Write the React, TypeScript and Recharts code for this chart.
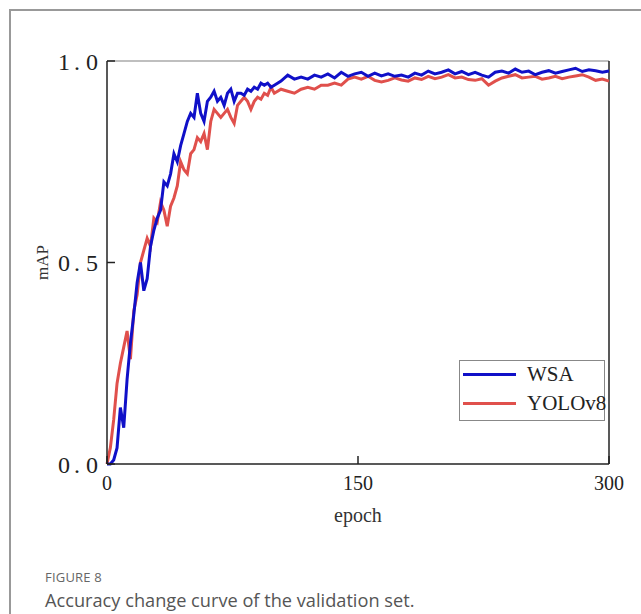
import React from "react";
import { LineChart, Line, XAxis, YAxis, ReferenceLine } from "recharts";

const earlyEpochs = [0,2,4,6,8,10,12,14,16,18,20,22,24,26,28,30,32,34,36,38,40,42,44,46,48,50,52,54,56,58,60,62,64,66,68,70,72,74,76,78,80,82,84,86,88,90,92,94,96,98,100];
const earlyWSA = [0.00,0.00,0.01,0.04,0.14,0.09,0.21,0.30,0.37,0.45,0.50,0.43,0.46,0.54,0.58,0.61,0.63,0.70,0.69,0.72,0.77,0.75,0.79,0.82,0.85,0.87,0.86,0.92,0.87,0.85,0.90,0.91,0.925,0.90,0.91,0.89,0.92,0.93,0.90,0.92,0.92,0.915,0.93,0.925,0.935,0.93,0.945,0.94,0.945,0.935,0.94];
const earlyYOLO = [0.00,0.04,0.11,0.20,0.25,0.29,0.33,0.26,0.38,0.42,0.50,0.53,0.56,0.54,0.61,0.60,0.65,0.63,0.59,0.64,0.66,0.69,0.75,0.73,0.72,0.77,0.78,0.81,0.80,0.82,0.78,0.85,0.88,0.87,0.86,0.87,0.88,0.86,0.845,0.89,0.90,0.91,0.90,0.88,0.90,0.91,0.905,0.92,0.915,0.935,0.92];

const lateEpochs = [104,108,112,116,120,124,128,132,136,140,144,148,152,156,160,164,168,172,176,180,184,188,192,196,200,204,208,212,216,220,224,228,232,236,240,244,248,252,256,260,264,268,272,276,280,284,288,292,296,300];
const lateWSA = [0.95,0.965,0.955,0.96,0.955,0.965,0.96,0.968,0.958,0.972,0.962,0.968,0.972,0.962,0.97,0.963,0.968,0.962,0.965,0.96,0.97,0.965,0.975,0.968,0.972,0.978,0.968,0.974,0.966,0.972,0.965,0.96,0.972,0.975,0.97,0.98,0.972,0.975,0.966,0.972,0.976,0.97,0.974,0.978,0.982,0.974,0.978,0.976,0.972,0.975];
const lateYOLO = [0.93,0.925,0.92,0.93,0.935,0.93,0.94,0.94,0.945,0.94,0.955,0.96,0.955,0.962,0.952,0.948,0.952,0.958,0.953,0.95,0.958,0.954,0.962,0.956,0.96,0.966,0.958,0.96,0.954,0.952,0.956,0.94,0.95,0.958,0.962,0.966,0.958,0.96,0.962,0.955,0.958,0.962,0.956,0.96,0.963,0.966,0.96,0.952,0.955,0.95];

const xTicks = [0, 150, 300];
const yTicks = [0, 0.5, 1.0];

const epochs = [...earlyEpochs, ...lateEpochs];
const wsa = [...earlyWSA, ...lateWSA];
const yolo = [...earlyYOLO, ...lateYOLO];
const data = epochs.map((e, i) => ({ epoch: e, WSA: wsa[i], YOLOv8: yolo[i] }));

const serif = "'Liberation Serif', 'DejaVu Serif', serif";

const LegendBox = () => (
  <div style={{ position: "absolute", left: 459, top: 360, width: 146, height: 61, border: "1px solid #888", background: "#fff", boxSizing: "border-box", fontFamily: serif, fontSize: 21, color: "#222" }}>
    <div style={{ position: "absolute", left: 3, top: 12, width: 53, height: 3, background: "#1010c8" }} />
    <div style={{ position: "absolute", left: 67, top: 1, lineHeight: "24px" }}>WSA</div>
    <div style={{ position: "absolute", left: 3, top: 41, width: 53, height: 3, background: "#e0504c" }} />
    <div style={{ position: "absolute", left: 67, top: 30, lineHeight: "24px" }}>YOLOv8</div>
  </div>
);

export default function App() {
  return (
    <div style={{ position: "absolute", left: 0, top: 0, width: 641, height: 614, overflow: "hidden", background: "#fff" }}>
      <div style={{ position: "absolute", left: 9, top: 9, width: 700, height: 700, border: "2px solid #999" }} />
      <div style={{ position: "absolute", left: 0, top: 0 }}>
        <LineChart width={641} height={614} data={data} margin={{ top: 61, right: 32, bottom: 120, left: 47 }}>
          <XAxis
            dataKey="epoch"
            type="number"
            domain={[0, 300]}
            ticks={xTicks}
            height={30}
            stroke="#222"
            strokeWidth={1.5}
            tickSize={-8}
            tickMargin={20}
            tick={{ fontFamily: serif, fontSize: 20, fill: "#222" }}
            label={{ value: "epoch", position: "insideBottom", offset: -28, style: { fontFamily: serif, fontSize: 20, fill: "#333" } }}
          />
          <YAxis
            type="number"
            domain={[0, 1]}
            ticks={yTicks}
            width={60}
            stroke="#222"
            strokeWidth={1.5}
            tickSize={-8}
            tickMargin={17}
            tickFormatter={(v: number) => v.toFixed(1).replace(".", "\u2006. ")}
            tick={{ fontFamily: serif, fontSize: 24, fill: "#222" }}
            label={{ value: "mAP", angle: -90, position: "insideLeft", offset: -5, style: { fontFamily: serif, fontSize: 17, fill: "#333", textAnchor: "middle" } }}
          />
          <ReferenceLine y={1} stroke="#aaa" strokeWidth={1.5} />
          <ReferenceLine x={300} stroke="#222" strokeWidth={1.5} />
          <Line type="linear" dataKey="YOLOv8" stroke="#e0504c" strokeWidth={3} dot={false} isAnimationActive={false} />
          <Line type="linear" dataKey="WSA" stroke="#1010c8" strokeWidth={3} dot={false} isAnimationActive={false} />
        </LineChart>
      </div>
      <LegendBox />
      <div style={{ position: "absolute", left: 45, top: 568, fontFamily: "'Open Sans', sans-serif", fontSize: 13, color: "#666", letterSpacing: 0.2 }}>FIGURE 8</div>
      <div style={{ position: "absolute", left: 45, top: 588, fontFamily: "'Open Sans', sans-serif", fontSize: 18.2, color: "#555" }}>Accuracy change curve of the validation set.</div>
    </div>
  );
}
